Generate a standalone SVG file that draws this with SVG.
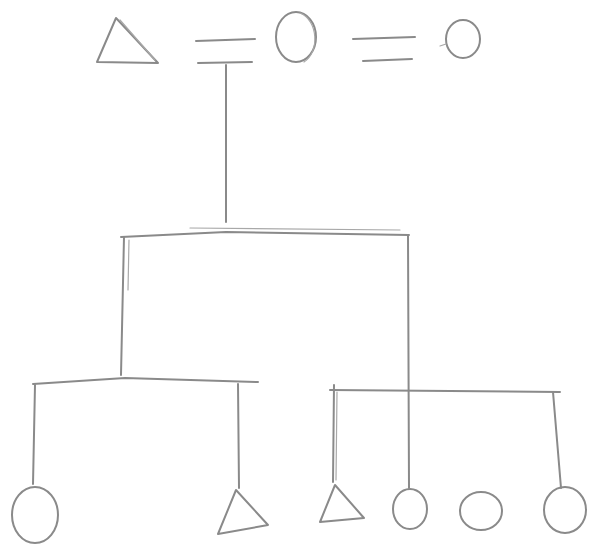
<svg xmlns="http://www.w3.org/2000/svg" width="589" height="546" viewBox="0 0 589 546">
<style>
.s{fill:none;stroke:#8a8a8a;stroke-width:2;stroke-linecap:round;stroke-linejoin:round}
.t{fill:none;stroke:#a8a8a8;stroke-width:1.2;stroke-linecap:round}
</style>
<rect width="589" height="546" fill="#ffffff"/>
<g id="ego-father"><path class="s" d="M116,18 L97,62 L158,63 Z"/><path class="t" d="M120,20 L155,60"/></g>
<g id="marriage1"><path class="s" d="M196,41 L255,39"/><path class="s" d="M198,63 L252,62"/></g>
<g id="wife1"><ellipse class="s" cx="296" cy="37" rx="20" ry="25"/><path class="t" d="M300,13 C318,20 320,52 304,62"/></g>
<g id="marriage2"><path class="s" d="M353,39 L415,37"/><path class="s" d="M363,61 L412,59"/></g>
<g id="wife2"><ellipse class="s" cx="463" cy="39" rx="17" ry="19"/><path class="t" d="M446,44 L440,46"/></g>
<g id="connectors">
<path class="s" d="M226,65 L226,222"/>
<path class="s" d="M121,237 L226,232 L409,235"/>
<path class="t" d="M190,228 L400,230"/>
<path class="s" d="M124,237 L121,375"/>
<path class="t" d="M129,240 L128,290"/>
<path class="s" d="M408,235 L409,488"/>
<path class="s" d="M33,384 L125,378 L258,382"/>
<path class="s" d="M35,385 L33,484"/>
<path class="s" d="M238,384 L239,488"/>
<path class="s" d="M330,390 L560,392"/>
<path class="s" d="M334,385 L333,482"/>
<path class="t" d="M337,392 L336,480"/>
<path class="s" d="M553,392 L561,488"/>
</g>
<g id="child1"><ellipse class="s" cx="35" cy="515" rx="23" ry="28"/></g>
<g id="child2"><path class="s" d="M236,490 L218,534 L268,525 Z"/></g>
<g id="child3"><path class="s" d="M335,485 L320,522 L364,518 Z"/></g>
<g id="child4"><ellipse class="s" cx="410" cy="509" rx="17" ry="20"/></g>
<g id="child5"><ellipse class="s" cx="481" cy="511" rx="21" ry="19"/></g>
<g id="child6"><ellipse class="s" cx="565" cy="510" rx="21" ry="23"/></g>
</svg>
